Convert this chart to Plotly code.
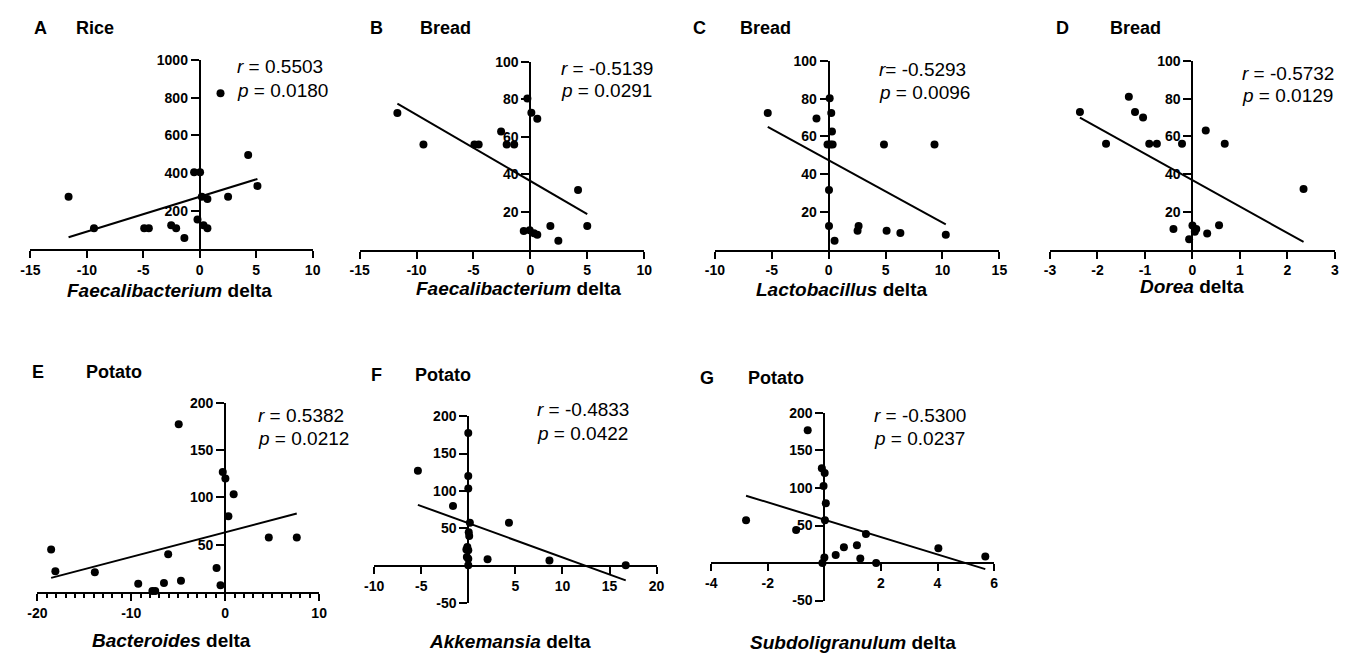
import numpy as np
import plotly.graph_objects as go

W, H = 1357, 659

# ---------------- data ----------------
# A  Rice : Faecalibacterium delta
a_x = [-11.62, -9.37, -4.92, -4.51, -2.53, -2.09, -1.36, -0.5, 0.03, -0.2, 0.18, 0.68, 0.33, 0.68, 1.84, 2.51, 4.29, 5.11]
a_y = [276, 109, 109, 109, 124, 109, 57, 405, 405, 155, 276, 264, 124, 109, 824, 276, 497, 333]
# B  Bread : Faecalibacterium delta
b_x = [-11.68, -9.39, -4.91, -4.54, -2.57, -2.08, -1.42, -0.26, 0.09, 0.61, -0.58, -0.06, 0.32, 0.61, 1.76, 2.46, 4.19, 5.0]
b_y = [72.7, 55.9, 55.9, 55.9, 62.8, 55.9, 55.9, 80.4, 72.8, 69.7, 10.0, 10.4, 8.8, 8.0, 12.6, 4.8, 31.7, 12.6]
# C  Bread : Lactobacillus delta
c_x = [-5.35, -1.07, 0.09, 0.23, 0.29, -0.1, 0.15, 0.35, 0.03, 0.03, 0.52, 2.54, 2.63, 4.86, 5.09, 6.3, 9.3, 10.29]
c_y = [72.4, 69.5, 80.2, 72.4, 62.6, 55.7, 55.7, 55.7, 31.6, 12.6, 4.8, 10.0, 12.6, 55.7, 10.0, 8.8, 55.7, 7.9]
# D  Bread : Dorea delta
d_x = [-2.37, -1.82, -1.34, -1.21, -1.04, -0.91, -0.75, -0.22, 0.28, 0.68, 2.34, -0.40, -0.07, 0.0, 0.05, 0.08, 0.31, 0.56]
d_y = [72.9, 56.2, 81.0, 72.9, 70.0, 56.2, 56.2, 56.2, 63.1, 56.2, 32.1, 11.0, 5.5, 12.8, 9.5, 10.9, 8.6, 13.0]
# E  Potato : Bacteroides delta
e_x = [-18.53, -18.08, -13.88, -9.26, -7.75, -7.45, -6.52, -6.07, -4.95, -4.71, -0.92, -0.5, -0.26, 0.02, 0.9, 0.34, 4.64, 7.62]
e_y = [44.8, 21.7, 20.7, 8.6, 0.7, 0.7, 9.3, 39.7, 177.6, 11.7, 25.2, 6.9, 126.9, 120, 103.4, 80, 57.6, 57.6]
# F  Potato : Akkemansia delta
f_x = [-5.35, -1.62, 0.0, 0.0, 0.0, 0.17, 0.05, 0.1, -0.1, -0.2, 0.0, -0.15, 0.0, 2.05, 8.62, 4.32, 0.0, 16.72]
f_y = [126.9, 80, 177.6, 120, 103.4, 57.6, 44.8, 39.7, 25.2, 21.7, 20.7, 11.7, 9.3, 8.6, 6.9, 57.6, 0.7, 0.7]
# G  Potato : Subdoligranulum delta
g_x = [-2.77, -1.0, -0.59, -0.09, 0.01, -0.03, 0.05, 0.02, 0.0, -0.07, 0.4, 0.69, 1.15, 1.27, 1.47, 1.83, 4.03, 5.69]
g_y = [57.0, 44.0, 177.0, 126.4, 120.0, 102.6, 79.6, 57.0, 7.2, 0.0, 10.7, 21.1, 23.7, 5.9, 38.8, 0.0, 19.7, 8.6]

letters = ["A", "B", "C", "D", "E", "F", "G"]
foods = ["Rice", "Bread", "Bread", "Bread", "Potato", "Potato", "Potato"]
genera = ["Faecalibacterium", "Faecalibacterium", "Lactobacillus", "Dorea", "Bacteroides", "Akkemansia", "Subdoligranulum"]
r_text = ["<i>r</i> = 0.5503", "<i>r</i> = -0.5139", "<i>r</i>= -0.5293", "<i>r</i> = -0.5732",
          "<i>r</i> = 0.5382", "<i>r</i> = -0.4833", "<i>r</i> = -0.5300"]
p_text = ["<i>p</i> = 0.0180", "<i>p</i> = 0.0291", "<i>p</i> = 0.0096", "<i>p</i> = 0.0129",
          "<i>p</i> = 0.0212", "<i>p</i> = 0.0422", "<i>p</i> = 0.0237"]

x_ticks = [[-15, -10, -5, 0, 5, 10], [-15, -10, -5, 0, 5, 10], [-10, -5, 0, 5, 10, 15], [-3, -2, -1, 0, 1, 2, 3],
           [-20, -10, 0, 10], [-10, -5, 5, 10, 15, 20], [-4, -2, 2, 4, 6]]
y_ticks = [[200, 400, 600, 800, 1000], [20, 40, 60, 80, 100], [20, 40, 60, 80, 100], [20, 40, 60, 80, 100],
           [50, 100, 150, 200], [-50, 50, 100, 150, 200], [-50, 50, 100, 150, 200]]
x_ranges = [(-15, 10), (-15, 10), (-10, 15), (-3, 3), (-20, 10), (-10, 20), (-4, 6)]
y_ranges = [(0, 1000), (0, 100), (0, 100), (0, 100), (0, 200), (-50, 200), (-50, 200)]

series_x = [a_x, b_x, c_x, d_x, e_x, f_x, g_x]
series_y = [a_y, b_y, c_y, d_y, e_y, f_y, g_y]

# ---------------- layout (pixel boxes) ----------------
boxes = [  # x0, x1, y_top, y_bottom  (pixels)
    (20.7, 306.7, 53.3, 246.7),
    (354.3, 642.7, 55.0, 247.7),
    (714.3, 1002.7, 54.3, 247.7),
    (1054.0, 1342.7, 54.3, 247.7),
    (27.7, 313.3, 405.0, 598.3),
    (369.0, 655.3, 418.3, 610.0),
    (710.7, 997.3, 415.0, 607.3),
]
label_pos = [((22, 21), (65, 21)), ((363, 21), (413, 21)), ((690, 21), (738, 21)), ((1058, 21), (1113, 21)),
             ((20, 373), (75, 373)), ((364, 376), (408, 376)), ((697, 379), (746, 379))]
rp_pos = [(228, 60, 85), (556, 61.7, 85), (879, 63.3, 86.7), (1246.7, 66.7, 90),
          (249.3, 417.3, 441), (531.7, 411.7, 436), (874, 417.3, 441)]
title_pos = [(162, 290), (515.5, 287), (843, 288), (1197.5, 285), (163.3, 648), (506.7, 649), (854.7, 650)]

FONT = "Liberation Sans, Arial, Helvetica, sans-serif"

def px(x):
    return x / W

def py(y):
    return 1 - y / H

def fmt(v):
    return str(v)  # plain hyphen-minus, as in the original

fig = go.Figure()
annotations = []
layout_axes = {}

for i in range(7):
    n = i + 1
    xs = np.array(series_x[i], dtype=float)
    ys = np.array(series_y[i], dtype=float)
    xa = f"x{n}" if n > 1 else "x"
    ya = f"y{n}" if n > 1 else "y"
    fig.add_trace(go.Scatter(x=xs, y=ys, mode="markers", xaxis=xa, yaxis=ya,
                             marker=dict(color="black", size=8), cliponaxis=False,
                             showlegend=False, hoverinfo="x+y"))
    k, b = np.polyfit(xs, ys, 1)
    lx = np.array([xs.min(), xs.max()])
    fig.add_trace(go.Scatter(x=lx, y=k * lx + b, mode="lines", xaxis=xa, yaxis=ya,
                             line=dict(color="black", width=2), cliponaxis=False,
                             showlegend=False, hoverinfo="skip"))

    x0, x1, yt, yb = boxes[i]
    xr, yr = x_ranges[i], y_ranges[i]
    xdom = [px(x0), px(x1)]
    ydom = [py(yb), py(yt)]
    # y axis crosses at x = 0
    ypos = xdom[0] + (0 - xr[0]) / (xr[1] - xr[0]) * (xdom[1] - xdom[0])
    common = dict(showline=True, linewidth=2, linecolor="black", ticks="outside", tickwidth=2,
                  tickcolor="black", showgrid=False, zeroline=False,
                  tickfont=dict(family=FONT, size=14, color="black", weight="bold"))
    xdict = dict(domain=xdom, range=list(xr), tickvals=x_ticks[i], ticktext=[fmt(v) for v in x_ticks[i]],
                 ticklen=7, **common)
    if yr[0] < 0:
        xpos = ydom[0] + (0 - yr[0]) / (yr[1] - yr[0]) * (ydom[1] - ydom[0])
        xdict.update(anchor="free", position=xpos)
    else:
        xdict.update(anchor=ya)
    if n == 5:
        xdict["minor"] = dict(dtick=1, tick0=0, ticks="outside", ticklen=4, tickwidth=1.5,
                              tickcolor="black", showgrid=False)
    ydict = dict(domain=ydom, range=list(yr), tickvals=y_ticks[i], ticktext=[fmt(v) for v in y_ticks[i]],
                 ticklen=8, anchor="free", position=ypos, **common)
    layout_axes["xaxis" if n == 1 else f"xaxis{n}"] = xdict
    layout_axes["yaxis" if n == 1 else f"yaxis{n}"] = ydict

    (lx0, ly0), (fx0, fy0) = label_pos[i]
    annotations.append(dict(text=f"<b>{letters[i]}</b>", x=px(lx0), y=py(ly0), xref="paper", yref="paper",
                            xanchor="left", yanchor="middle", showarrow=False,
                            font=dict(family=FONT, size=18, color="black")))
    annotations.append(dict(text=f"<b>{foods[i]}</b>", x=px(fx0), y=py(fy0), xref="paper", yref="paper",
                            xanchor="left", yanchor="middle", showarrow=False,
                            font=dict(family=FONT, size=18, color="black")))
    rx, ry, pyy = rp_pos[i]
    annotations.append(dict(text=r_text[i], x=px(rx), y=py(ry), xref="paper", yref="paper",
                            xanchor="left", yanchor="middle", showarrow=False,
                            font=dict(family=FONT, size=19, color="black")))
    annotations.append(dict(text=p_text[i], x=px(rx), y=py(pyy), xref="paper", yref="paper",
                            xanchor="left", yanchor="middle", showarrow=False,
                            font=dict(family=FONT, size=19, color="black")))
    tx, ty = title_pos[i]
    annotations.append(dict(text=f"<b><i>{genera[i]}</i> delta</b>", x=px(tx), y=py(ty),
                            xref="paper", yref="paper", xanchor="center", yanchor="middle",
                            showarrow=False, font=dict(family=FONT, size=19, color="black")))

fig.update_layout(width=W, height=H, autosize=False, margin=dict(l=0, r=0, t=0, b=0),
                  paper_bgcolor="white", plot_bgcolor="white", showlegend=False,
                  annotations=annotations, **layout_axes)

fig.write_html("out.html", config={"displayModeBar": False},
               post_script="document.body.style.margin='0px';")
